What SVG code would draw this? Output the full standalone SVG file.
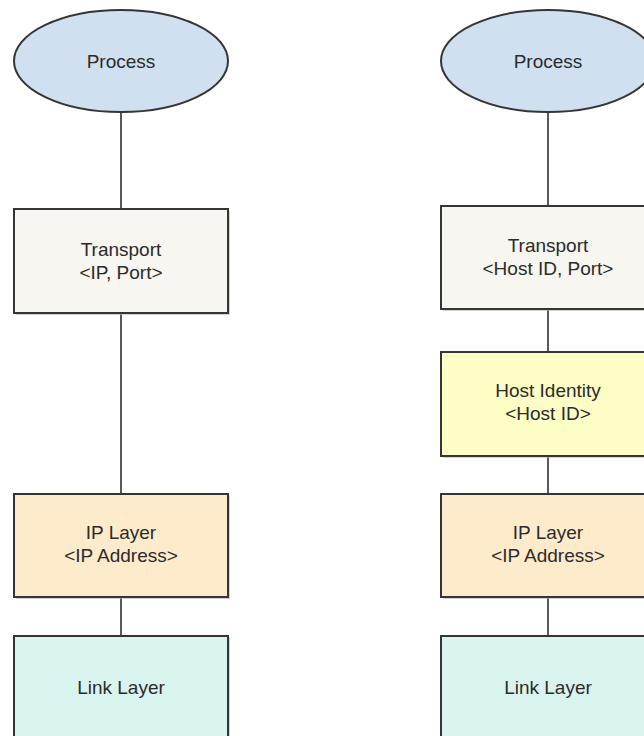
<svg xmlns="http://www.w3.org/2000/svg" width="644" height="736" viewBox="0 0 644 736">
  <style>
    .shape { stroke: #353535; stroke-width: 2; }
    .shadow { fill: #b8b8b8; opacity: 0.6; }
    .wire { stroke: #222; stroke-width: 1.5; fill: none; }
    .label { font-family: "Liberation Sans", Arial, sans-serif; font-size: 19px; fill: #2b2b2b; text-anchor: middle; }
    .process { fill: #d0e0f1; }
    .transport { fill: #f7f6f0; }
    .hostid { fill: #fdfdc6; }
    .ip { fill: #fdebcc; }
    .link { fill: #d9f4ef; }
  </style>
  <rect width="644" height="736" fill="#ffffff"/>

  <!-- connectors -->
  <g id="connectors">
    <line class="wire" x1="121" y1="112" x2="121" y2="209"/>
    <line class="wire" x1="121" y1="313" x2="121" y2="494"/>
    <line class="wire" x1="121" y1="597" x2="121" y2="636"/>
    <line class="wire" x1="548" y1="112" x2="548" y2="206"/>
    <line class="wire" x1="548" y1="309" x2="548" y2="352"/>
    <line class="wire" x1="548" y1="456" x2="548" y2="494"/>
    <line class="wire" x1="548" y1="597" x2="548" y2="636"/>
  </g>

  <!-- left stack -->
  <g id="left-process">
    <ellipse class="process shape" cx="121" cy="61" rx="107" ry="51"/>
    <text class="label" x="121" y="68">Process</text>
  </g>
  <g id="left-transport">
    <rect class="shadow" x="16" y="211" width="214" height="104"/>
    <rect class="transport shape" x="14" y="209" width="214" height="104"/>
    <text class="label" x="121" y="256">Transport</text>
    <text class="label" x="121" y="279">&lt;IP, Port&gt;</text>
  </g>
  <g id="left-ip">
    <rect class="shadow" x="16" y="496" width="214" height="103"/>
    <rect class="ip shape" x="14" y="494" width="214" height="103"/>
    <text class="label" x="121" y="539">IP Layer</text>
    <text class="label" x="121" y="562">&lt;IP Address&gt;</text>
  </g>
  <g id="left-link">
    <rect class="shadow" x="16" y="638" width="214" height="110"/>
    <rect class="link shape" x="14" y="636" width="214" height="110"/>
    <text class="label" x="121" y="694">Link Layer</text>
  </g>

  <!-- right stack -->
  <g id="right-process">
    <ellipse class="process shape" cx="548" cy="61" rx="107" ry="51"/>
    <text class="label" x="548" y="68">Process</text>
  </g>
  <g id="right-transport">
    <rect class="shadow" x="443" y="208" width="214" height="103"/>
    <rect class="transport shape" x="441" y="206" width="214" height="103"/>
    <text class="label" x="548" y="252">Transport</text>
    <text class="label" x="548" y="275">&lt;Host ID, Port&gt;</text>
  </g>
  <g id="right-hostid">
    <rect class="shadow" x="443" y="354" width="214" height="104"/>
    <rect class="hostid shape" x="441" y="352" width="214" height="104"/>
    <text class="label" x="548" y="397">Host Identity</text>
    <text class="label" x="548" y="420">&lt;Host ID&gt;</text>
  </g>
  <g id="right-ip">
    <rect class="shadow" x="443" y="496" width="214" height="103"/>
    <rect class="ip shape" x="441" y="494" width="214" height="103"/>
    <text class="label" x="548" y="539">IP Layer</text>
    <text class="label" x="548" y="562">&lt;IP Address&gt;</text>
  </g>
  <g id="right-link">
    <rect class="shadow" x="443" y="638" width="214" height="110"/>
    <rect class="link shape" x="441" y="636" width="214" height="110"/>
    <text class="label" x="548" y="694">Link Layer</text>
  </g>
</svg>
